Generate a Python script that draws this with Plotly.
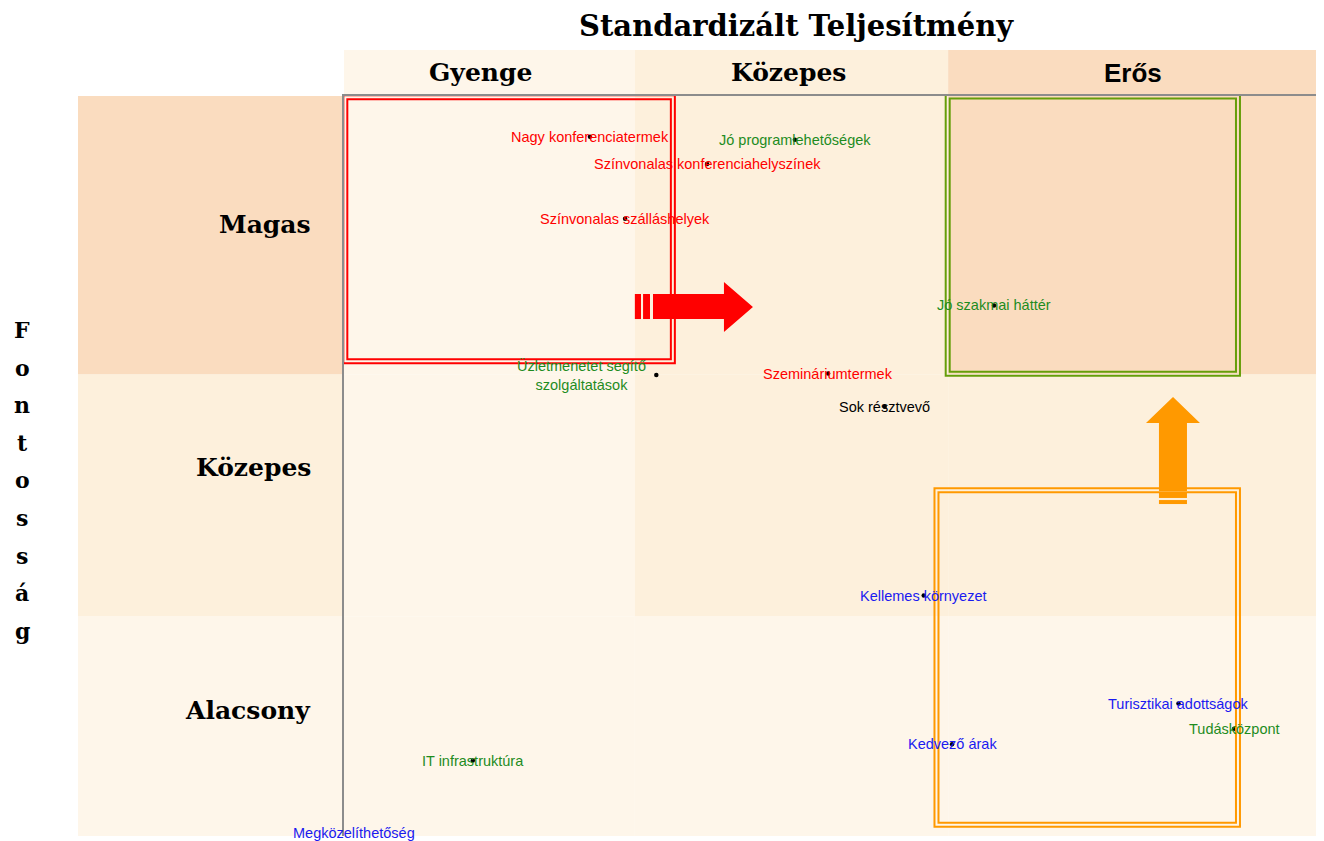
import plotly.graph_objects as go

# --- data -------------------------------------------------------------
PERF_LEVELS = ["Gyenge", "Közepes", "Erős"]
IMPORTANCE_LEVELS = ["Alacsony", "Közepes", "Magas"]
PERF_EDGES = [0.0, 2.98, 6.19, 10.0]
IMPORTANCE_EDGES = [0.0, 2.97, 6.24, 10.0]
# shading level of each cell, rows = importance (low -> high), cols = performance
CELL_LEVEL = [
    [0, 0, 0],
    [0, 1, 1],
    [0, 1, 2],
]

FACTORS = [
    "Nagy konferenciatermek",
    "Színvonalas konferenciahelyszínek",
    "Jó programlehetőségek",
    "Színvonalas szálláshelyek",
    "Jó szakmai háttér",
    "Üzletmenetet segítő<br>szolgáltatások",
    "Szemináriumtermek",
    "Sok résztvevő",
    "Kellemes környezet",
    "Turisztikai adottságok",
    "Tudásközpont",
    "Kedvező árak",
    "IT infrastruktúra",
    "Megközelíthetőség",
]
PERFORMANCE = [2.52, 3.72, 4.62, 2.88, 6.66, 3.20, 4.96, 5.54, 5.94, 8.55, 9.12, 6.23, 1.32, -0.03]
IMPORTANCE = [9.45, 9.08, 9.41, 8.34, 7.17, 6.23, 6.25, 5.80, 3.25, 1.79, 1.45, 1.24, 1.02, 0.04]
GROUP = ["fejlesztendő", "fejlesztendő", "erősség", "fejlesztendő", "erősség", "erősség",
         "fejlesztendő", "semleges", "kevésbé fontos", "kevésbé fontos", "erősség",
         "kevésbé fontos", "erősség", "kevésbé fontos"]

# --- style ------------------------------------------------------------
# the page body has an 8px margin, so the figure is shrunk by that much
BODY = 8
W, H = 1324 - BODY, 841 - BODY
PLOT_L, PLOT_R, PLOT_T, PLOT_B = 344, 1320, 96, 836   # plot area in page pixels
X_RANGE = [0, 10]
Y_RANGE = [0, 10]
ML = PLOT_L - BODY
MT = PLOT_T - BODY
MR = W - (PLOT_R - BODY)
MB = H - (PLOT_B - BODY)
PX_X = (PLOT_R - PLOT_L) / (X_RANGE[1] - X_RANGE[0])
PX_Y = (PLOT_B - PLOT_T) / (Y_RANGE[1] - Y_RANGE[0])


def px(xp):
    return (xp - PLOT_L) / (PLOT_R - PLOT_L)


def py(yp):
    return (PLOT_B - yp) / (PLOT_B - PLOT_T)


SHADES = ["#FEF6EA", "#FDF0DC", "#FADCBF"]
GROUP_COLOR = {"fejlesztendő": "#FF0000", "erősség": "#1E8C1E",
               "kevésbé fontos": "#1A1AF0", "semleges": "#000000"}
LABEL_SHIFT = {"Megközelíthetőség": 13}
SERIF = "DejaVu Serif"
SANS = "Liberation Sans, Arial, sans-serif"

fig = go.Figure()
shapes = []
annotations = []

# plot-area cells
for r in range(3):
    for c in range(3):
        shapes.append(dict(type="rect", xref="x", yref="y", layer="below",
                           x0=PERF_EDGES[c], x1=PERF_EDGES[c + 1],
                           y0=IMPORTANCE_EDGES[r], y1=IMPORTANCE_EDGES[r + 1],
                           fillcolor=SHADES[CELL_LEVEL[r][c]], line_width=0))

# header row (top) and header column (left), outside the plot area
for c, lvl in enumerate(PERF_LEVELS):
    shapes.append(dict(type="rect", xref="x", yref="paper", layer="below",
                       x0=PERF_EDGES[c], x1=PERF_EDGES[c + 1],
                       y0=1, y1=py(50), fillcolor=SHADES[c], line_width=0))
for r, lvl in enumerate(IMPORTANCE_LEVELS):
    shapes.append(dict(type="rect", xref="paper", yref="y", layer="below",
                       x0=px(78), x1=0,
                       y0=IMPORTANCE_EDGES[r], y1=IMPORTANCE_EDGES[r + 1],
                       fillcolor=SHADES[r], line_width=0))

head_x = [480, 788, 1133]
for c, lvl in enumerate(PERF_LEVELS):
    fam = SANS if lvl == "Erős" else SERIF
    size = 26 if lvl == "Erős" else 25
    annotations.append(dict(xref="paper", yref="paper", x=px(head_x[c]), y=py(73),
                            xanchor="center", yanchor="middle", text=f"<b>{lvl}</b>",
                            showarrow=False, font=dict(family=fam, size=size, color="black")))
row_y = [710, 467, 224]
for r, lvl in enumerate(IMPORTANCE_LEVELS):
    annotations.append(dict(xref="paper", yref="paper", x=px(313), y=py(row_y[r]),
                            xanchor="right", yanchor="middle", text=f"<b>{lvl}</b>",
                            showarrow=False, font=dict(family=SERIF, size=25, color="black")))

annotations.append(dict(xref="paper", yref="paper", x=px(796), y=py(26),
                        xanchor="center", yanchor="middle",
                        text="<b>Standardizált Teljesítmény</b>", showarrow=False,
                        font=dict(family=SERIF, size=29, color="black")))
for i, ch in enumerate("Fontosság"):
    annotations.append(dict(xref="paper", yref="paper", x=px(22), y=py(330 + 37.6 * i),
                            xanchor="center", yanchor="middle",
                            text=f"<b>{ch}</b>", showarrow=False,
                            font=dict(family=SERIF, size=22, color="black")))


# double-line boxes
def double_box(x0, x1, y0, y1, color, gap=4):
    gx, gy = gap / PX_X, gap / PX_Y
    for dx, dy in ((0, 0), (gx, gy)):
        shapes.append(dict(type="rect", xref="x", yref="y", layer="above",
                           x0=x0 + dx, x1=x1 - dx, y0=y0 + dy, y1=y1 - dy,
                           line=dict(color=color, width=2), fillcolor="rgba(0,0,0,0)"))


double_box(-0.007, 3.39, 6.39, 10.01, "#FF0000")
double_box(6.165, 9.18, 6.22, 10.02, "#669E0A")
double_box(6.05, 9.18, 0.126, 4.70, "#FF9900")


def poly(points, color):
    path = "M " + " L ".join(f"{x},{y}" for x, y in points) + " Z"
    shapes.append(dict(type="path", xref="x", yref="y", layer="above", path=path,
                       fillcolor=color, line_width=0))


# red arrow (right)
poly([(3.166, 6.986), (3.893, 6.986), (3.893, 6.81), (4.19, 7.149),
      (3.893, 7.486), (3.893, 7.324), (3.166, 7.324)], "#FF0000")
for a, b in ((2.98, 3.043), (3.064, 3.135)):
    poly([(a, 6.986), (b, 6.986), (b, 7.324), (a, 7.324)], "#FF0000")

# orange arrow (up)
poly([(8.35, 4.662), (8.637, 4.662), (8.637, 5.581), (8.77, 5.581),
      (8.494, 5.932), (8.217, 5.581), (8.35, 5.581)], "#FF9900")
for a, b in ((4.568, 4.635), (4.486, 4.54)):
    poly([(8.35, a), (8.637, a), (8.637, b), (8.35, b)], "#FF9900")

# factor labels (annotations on the axes are hidden when off-range,
# so points left of the axis are clamped to its edge and shifted in pixels)
for name, x, y, g in zip(FACTORS, PERFORMANCE, IMPORTANCE, GROUP):
    ax_x = max(x, X_RANGE[0])
    ann = dict(xref="x", yref="y", x=ax_x, y=y, text=name, showarrow=False,
               yanchor="middle", font=dict(family=SANS, size=14.5, color=GROUP_COLOR[g]))
    shift = (x - ax_x) * PX_X
    if "<br>" in name:
        ann.update(xanchor="right", xshift=shift - 8)
    else:
        ann.update(xanchor="center", xshift=shift + LABEL_SHIFT.get(name, 0))
    annotations.append(ann)

fig.add_trace(go.Scatter(x=PERFORMANCE, y=IMPORTANCE, mode="markers",
                         marker=dict(color="black", size=4.5), cliponaxis=False,
                         text=[f.replace("<br>", " ") for f in FACTORS],
                         hovertemplate="%{text}<extra></extra>", showlegend=False))

fig.update_layout(
    width=W, height=H,
    margin=dict(l=ML, r=MR, t=MT, b=MB, pad=0),
    paper_bgcolor="white", plot_bgcolor="white",
    shapes=shapes, annotations=annotations,
    xaxis=dict(range=X_RANGE, side="top", showline=True, linecolor="#8C8C8C", linewidth=1.5,
               showgrid=False, zeroline=False, showticklabels=False, ticks=""),
    yaxis=dict(range=Y_RANGE, showline=True, linecolor="#8C8C8C", linewidth=1.5,
               showgrid=False, zeroline=False, showticklabels=False, ticks=""),
)

fig.write_html("out.html")
